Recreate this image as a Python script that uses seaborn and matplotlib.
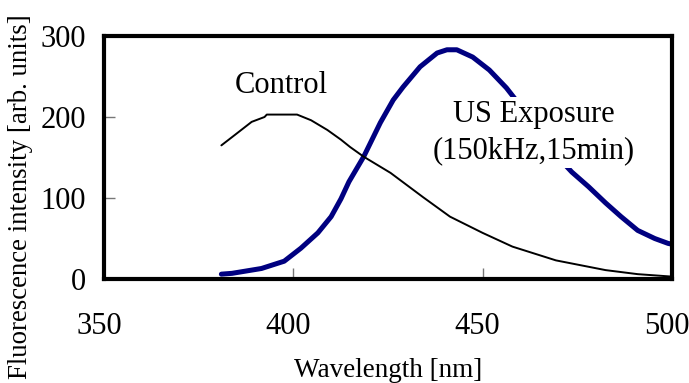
import matplotlib
matplotlib.use("Agg")
import matplotlib.pyplot as plt
import matplotlib.transforms as mtransforms
import seaborn as sns
import pandas as pd

# Control spectrum (black)
control_wl = [381, 384.6, 389, 392.4, 393, 397, 401, 404.7, 409, 412.6, 415, 418.6, 425.7,
              434.3, 441.4, 450, 457.9, 469.4, 482.5, 491, 497, 500]
control_int = [165, 178, 194, 200, 203, 203, 203, 196, 184, 172, 163, 151, 131,
               101, 77, 57, 40, 23, 11, 6, 4, 3]

# US Exposure spectrum (navy)
us_wl = [381, 383.8, 391.6, 397.6, 402, 406.5, 410, 412.6, 414.7, 418.6, 423, 426.4, 429,
         433.5, 438, 440.6, 443.2, 447.4, 451.8, 456.3, 461, 466, 470, 473.6, 478, 482.5,
         486.6, 491, 495.5, 499, 500]
us_int = [6, 7, 13, 22, 38, 57, 77, 99, 120, 151, 193, 221, 237,
          262, 279, 283, 283, 274, 258, 236, 208, 178, 150, 132, 114, 94,
          77, 60, 50, 44, 43]

x_ticks = [350, 400, 450, 500]
y_ticks = [0, 100, 200, 300]

sns.set_style("white")
serif = ["Liberation Serif", "DejaVu Serif"]
plt.rcParams["font.family"] = serif
plt.rcParams["text.color"] = "black"
plt.rcParams["axes.labelcolor"] = "black"
plt.rcParams["xtick.labelcolor"] = "black"
plt.rcParams["ytick.labelcolor"] = "black"

fig = plt.figure(figsize=(6.89, 3.83), dpi=100)
ax = fig.add_axes([0.151, 0.2715, 0.824, 0.6345])

df_c = pd.DataFrame({"wl": control_wl, "val": control_int})
df_u = pd.DataFrame({"wl": us_wl, "val": us_int})
sns.lineplot(data=df_c, x="wl", y="val", ax=ax, color="black", linewidth=1.4, zorder=3)
sns.lineplot(data=df_u, x="wl", y="val", ax=ax, color="#000080", linewidth=3.6, zorder=2)

ax.set_xlim(350, 500)
ax.set_ylim(0, 300)
ax.set_xticks(x_ticks)
ax.set_yticks(y_ticks)
ax.set_xticklabels([str(v) for v in x_ticks])
ax.set_yticklabels([str(v) for v in y_ticks])
ax.tick_params(axis="x", direction="in", length=8, width=1, color="#777777",
               pad=24, labelsize=22, bottom=True, labelcolor="black")
ax.tick_params(axis="y", direction="in", length=8, width=1, color="#777777",
               pad=13, labelsize=22, left=True, labelcolor="black")
shift = mtransforms.ScaledTranslation(-5 / 100, 0, fig.dpi_scale_trans)
for lbl in ax.get_xticklabels():
    lbl.set_transform(lbl.get_transform() + shift)
for s in ax.spines.values():
    s.set_visible(True)
    s.set_linewidth(3.0)
    s.set_color("black")
ax.grid(False)

ax.set_xlabel("Wavelength [nm]", fontsize=19.5, color="black")
ax.set_ylabel("Fluorescence intensity [arb. units]", fontsize=19.4, color="black")
ax.xaxis.set_label_coords(0.5, -0.323)
ax.yaxis.set_label_coords(-0.125, 0.34)

ax.text(396.9, 239, "Control", fontsize=22, ha="center", va="center", zorder=4,
        color="black")
ax.text(463.6, 181, "US Exposure\n(150kHz,15min)", fontsize=22, ha="center", va="center",
        linespacing=1.35, zorder=4, color="black",
        bbox=dict(facecolor="white", edgecolor="none", pad=2))

fig.savefig("out.png", dpi=100)
